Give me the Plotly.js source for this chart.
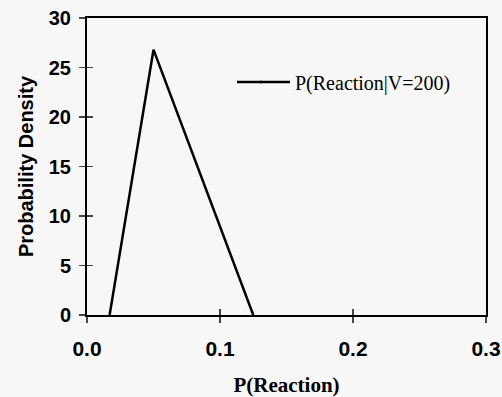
<!DOCTYPE html>
<html><head><meta charset="utf-8">
<script src="https://cdn.plot.ly/plotly-3.0.1.min.js"></script>
<style>html,body{margin:0;padding:0;background:#f7f7f7;}#c{width:502px;height:397px;}</style>
</head><body><div id="c"></div>
<script>
const xValues = [0.017, 0.05, 0.125];
const yValues = [0, 26.8, 0];
const seriesName = 'P(Reaction|V=200)';
const xTicks = [0, 0.1, 0.2, 0.3];
const xTickLabels = ['0.0', '0.1', '0.2', '0.3'];
const yTicks = [0, 5, 10, 15, 20, 25, 30];

const data = [
  {x: xValues, y: yValues, mode: 'lines', name: seriesName, line: {color: '#000', width: 2.5}, showlegend: true},
  {x: [0.3], y: [0], xaxis: 'x2', yaxis: 'y2', mode: 'markers', marker: {opacity: 0}, showlegend: false, hoverinfo: 'skip'}
];
const layout = {
  width: 502, height: 397,
  paper_bgcolor: '#f7f7f7', plot_bgcolor: '#f7f7f7',
  margin: {l: 87, r: 16, t: 18, b: 82},
  showlegend: true,
  legend: {x: (255 - 87) / 399, y: (315 - 82) / 297, xanchor: 'left', yanchor: 'middle', bgcolor: 'rgba(0,0,0,0)',
           font: {family: 'Liberation Serif, Times New Roman, serif', size: 20, color: '#000'}},
  shapes: [{type: 'line', xref: 'paper', yref: 'paper', x0: (237 - 87) / 399, x1: (262 - 87) / 399,
            y0: (315 - 82) / 297, y1: (315 - 82) / 297, line: {color: '#000', width: 2.5}}],
  xaxis: {range: [0, 0.3], tickvals: xTicks, ticktext: xTickLabels, ticks: 'outside', ticklen: 6, tickwidth: 1.5,
          ticklabelstandoff: 8,
          showline: true, linewidth: 2, linecolor: '#000', mirror: true, showgrid: false, zeroline: false,
          tickfont: {family: 'Liberation Sans, Arial, sans-serif', size: 21, color: '#000', weight: 'bold'},
          title: {text: '<b>P(Reaction)</b>', standoff: 22, font: {family: 'Liberation Serif, Times New Roman, serif', size: 21, color: '#000'}}},
  yaxis: {range: [0, 30], tickvals: yTicks, ticks: 'outside', ticklen: 6, tickwidth: 1.5,
          ticklabelstandoff: 4,
          showline: true, linewidth: 2, linecolor: '#000', mirror: true, showgrid: false, zeroline: false,
          tickfont: {family: 'Liberation Sans, Arial, sans-serif', size: 20, color: '#000', weight: 'bold'},
          title: {text: '<b>Probability Density</b>', standoff: 10, font: {family: 'Liberation Sans, Arial, sans-serif', size: 20, color: '#000'}}},
  xaxis2: {range: [0, 0.3], overlaying: 'x', anchor: 'y2', tickvals: xTicks, ticks: 'inside', ticklen: 6, tickwidth: 1.5,
           showticklabels: false, showgrid: false, zeroline: false, showline: false},
  yaxis2: {range: [0, 30], overlaying: 'y', anchor: 'x2', tickvals: yTicks, ticks: 'inside', ticklen: 6, tickwidth: 1.5,
           showticklabels: false, showgrid: false, zeroline: false, showline: false}
};
Plotly.newPlot('c', data, layout, {displayModeBar: false, staticPlot: true});
</script></body></html>
